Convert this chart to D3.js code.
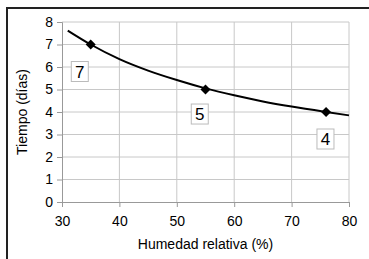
<!DOCTYPE html>
<html lang="en">
<head>
    <meta charset="utf-8">
    <title>Tiempo vs humedad</title>
    <script src="https://d3js.org/d3.v7.min.js"></script>
    <style>
        body { margin: 0; background: #fff; }
        text { font-family: "Liberation Sans", Arial, sans-serif; fill: #000; }
    </style>
</head>
<body>
    <svg id="chart" width="369" height="259"></svg>
    <script>
        // data
        const pointX = [35, 55, 76];
        const pointY = [7, 5, 4];
        const pointLabels = ['7', '5', '4'];
        // trend curve samples
        const curveX = [31, 35, 40, 45, 50, 55, 60, 65, 70, 76, 80];
        const curveY = [7.62, 7.0, 6.35, 5.84, 5.42, 5.05, 4.74, 4.47, 4.24, 4.0, 3.85];
        const xTicks = [30, 40, 50, 60, 70, 80];
        const yTicks = [0, 1, 2, 3, 4, 5, 6, 7, 8];

        const svg = d3.select('#chart');

        // outer frame (runs off the right and bottom edges)
        svg.append('rect')
            .attr('x', 7).attr('y', 8)
            .attr('width', 400).attr('height', 300)
            .attr('fill', 'none').attr('stroke', '#222').attr('stroke-width', 2);

        let x = d3.scaleLinear().domain([30, 80]).range([62, 349]);
        let y = d3.scaleLinear().domain([0, 8]).range([202, 22]);

        // gridlines
        svg.append('g').selectAll('line.h')
            .data(yTicks.filter(d => d > 0))
            .enter().append('line')
            .attr('x1', x(30)).attr('x2', x(80))
            .attr('y1', d => y(d)).attr('y2', d => y(d))
            .attr('stroke', '#c8c8c8').attr('stroke-width', 1);
        svg.append('g').selectAll('line.v')
            .data(xTicks.filter(d => d > 30))
            .enter().append('line')
            .attr('x1', d => x(d)).attr('x2', d => x(d))
            .attr('y1', y(0)).attr('y2', y(8))
            .attr('stroke', '#c8c8c8').attr('stroke-width', 1);

        // axes
        let yAxis = svg.append('g')
            .attr('transform', `translate(${x(30)},0)`)
            .call(d3.axisLeft(y).tickValues(yTicks).tickSize(5).tickPadding(4));
        let xAxis = svg.append('g')
            .attr('transform', `translate(0,${y(0)})`)
            .call(d3.axisBottom(x).tickValues(xTicks).tickSize(5).tickPadding(9));
        for (let ax of [xAxis, yAxis]) {
            ax.select('.domain').attr('stroke', '#999');
            ax.selectAll('.tick line').attr('stroke', '#999');
            ax.selectAll('text').style('font-size', '14px').attr('fill', '#000');
        }

        // curve
        let curve = curveX.map((d, i) => ({ x: d, y: curveY[i] }));
        let line = d3.line()
            .x(d => x(d.x))
            .y(d => y(d.y))
            .curve(d3.curveMonotoneX);
        svg.append('path')
            .datum(curve)
            .attr('fill', 'none')
            .attr('stroke', '#000')
            .attr('stroke-width', 2)
            .attr('d', line);

        // diamond markers
        let pts = pointX.map((d, i) => ({ x: d, y: pointY[i], label: pointLabels[i] }));
        svg.append('g').selectAll('path')
            .data(pts)
            .enter().append('path')
            .attr('transform', d => `translate(${x(d.x)},${y(d.y)})`)
            .attr('d', 'M0,-5L5,0L0,5L-5,0Z')
            .attr('fill', '#000');

        // label boxes, placed below-left of each point
        let labelOffsets = [[-1.9, -1.2], [-1.0, -1.09], [-0.1, -1.2]];
        let lab = svg.append('g').selectAll('g')
            .data(pts)
            .enter().append('g')
            .attr('transform', (d, i) => `translate(${x(d.x + labelOffsets[i][0])},${y(d.y + labelOffsets[i][1])})`);
        lab.append('rect')
            .attr('x', -8.5).attr('y', -10)
            .attr('width', 17).attr('height', 20)
            .attr('fill', '#fff')
            .attr('stroke', '#bbb');
        lab.append('text')
            .attr('text-anchor', 'middle')
            .attr('dy', '0.36em')
            .style('font-size', '17px')
            .text(d => d.label);

        // axis titles
        svg.append('text')
            .attr('transform', `translate(27,${(y(0) + y(8)) / 2}) rotate(-90)`)
            .attr('text-anchor', 'middle')
            .style('font-size', '14px')
            .text('Tiempo (días)');
        svg.append('text')
            .attr('x', (x(30) + x(80)) / 2)
            .attr('y', 249)
            .attr('text-anchor', 'middle')
            .style('font-size', '14px')
            .text('Humedad relativa (%)');
    </script>
</body>
</html>
